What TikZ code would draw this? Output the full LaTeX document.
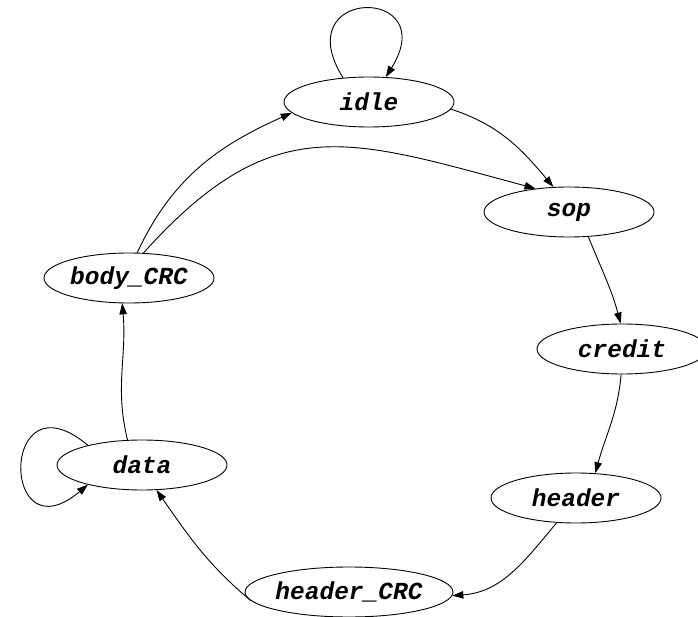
\documentclass[tikz,border=0pt]{standalone}
\usepackage{fontspec}
\usepackage{tikz}
\usetikzlibrary{shapes.geometric,arrows.meta}
\newfontfamily\statefont{Liberation Mono}

\begin{document}
\begin{tikzpicture}[
    x=1pt, y=1pt,
    state/.style={ellipse, draw, line width=0.9pt, minimum width=170pt, minimum height=50pt, inner sep=0pt, font=\statefont\bfseries\itshape\fontsize{24.5}{26}\selectfont},
    arrow/.style={-{Triangle[length=11pt,width=7.5pt]}, line width=0.9pt}
]
    \useasboundingbox (0,0) rectangle (698,616);
    \node[state] (idle) at (369,514) {idle};
    \node[state] (sop) at (569,404) {sop};
    \node[state] (credit) at (622,267) {credit};
    \node[state] (header) at (576,118) {header};
    \node[state] (hcrc) at (349,24) {header\_CRC};
    \node[state] (data) at (142,151) {data};
    \node[state] (bcrc) at (129,338) {body\_CRC};

    \draw[arrow] (idle.137) .. controls +(122:108) and +(58:108) .. (idle.56);
    \draw[arrow] (idle.-5) to[out=-18, in=130] (sop.122);
    \draw[arrow] (sop.-52) to[out=-68, in=105] (credit.93);
    \draw[arrow] (credit.-92) to[out=-95, in=75] (header.52);
    \draw[arrow] (header.232) to[out=-130, in=4] (hcrc.-2);
    \draw[arrow] (hcrc.185) to[out=140, in=-55] (data.-60);
    \draw[arrow] (data.160) .. controls +(140:115) and +(220:115) .. (data.200);
    \draw[arrow] (data.120) to[out=104, in=-85] (bcrc.-105);
    \draw[arrow] (bcrc.72) to[out=65, in=204] (idle.188);
    \draw[arrow] (bcrc.60) to[out=48, in=165, looseness=1.25] (sop.145);
\end{tikzpicture}
\end{document}
